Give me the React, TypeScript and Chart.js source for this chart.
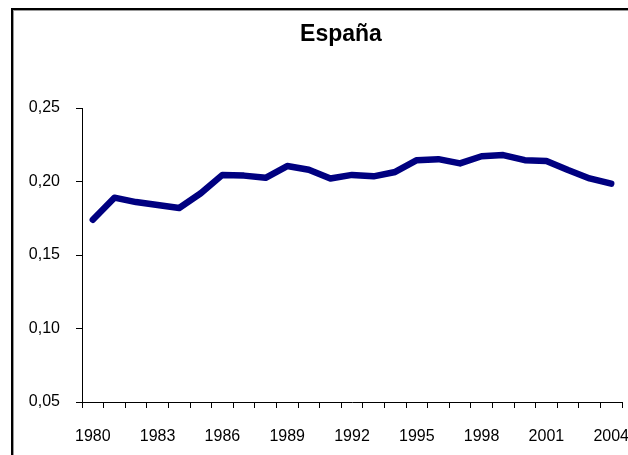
import React, { useEffect, useRef } from "react";
import { Chart, registerables } from "chart.js";

Chart.register(...registerables);

const years: string[] = [
  "1980", "1981", "1982", "1983", "1984", "1985", "1986", "1987", "1988", "1989",
  "1990", "1991", "1992", "1993", "1994", "1995", "1996", "1997", "1998", "1999",
  "2000", "2001", "2002", "2003", "2004",
];

const spainValues: number[] = [
  0.174, 0.189, 0.186, 0.184, 0.182, 0.192, 0.2045, 0.204, 0.2025, 0.2105,
  0.208, 0.202, 0.2045, 0.2035, 0.2065, 0.2145, 0.2152, 0.2123, 0.2172, 0.218,
  0.2145, 0.214, 0.2078, 0.2021, 0.1985,
];

const titleText = "España";
const yMin = 0.05;
const yMax = 0.25;
const yStep = 0.05;

const W = 628;
const H = 455;
const FONT = "Arial, 'Liberation Sans', sans-serif";

export default function App() {
  const ref = useRef<HTMLCanvasElement | null>(null);

  useEffect(() => {
    if (!ref.current) return;
    const titlePlugin = {
      id: "customTitle",
      afterDraw(chart: any) {
        const ctx = chart.ctx;
        ctx.save();
        ctx.font = "bold 23px " + FONT;
        ctx.fillStyle = "#000";
        ctx.textAlign = "center";
        ctx.textBaseline = "middle";
        ctx.fillText(titleText, 341, 35);
        ctx.restore();
      },
    };
    const chart = new Chart(ref.current, {
      type: "line",
      data: {
        labels: years,
        datasets: [
          {
            data: spainValues,
            borderColor: "#000080",
            backgroundColor: "#000080",
            borderWidth: 6.5,
            pointRadius: 0,
            tension: 0,
            borderJoinStyle: "round",
            borderCapStyle: "round",
            fill: false,
          },
        ],
      },
      options: {
        responsive: false,
        animation: false,
        devicePixelRatio: 1,
        layout: { padding: { top: 108, right: 6, bottom: 0, left: 0 } },
        plugins: {
          legend: { display: false },
          title: { display: false },
          tooltip: { enabled: false },
        },
        scales: {
          x: {
            type: "category",
            offset: true,
            grid: {
              offset: true,
              drawOnChartArea: false,
              drawTicks: true,
              tickLength: 6,
              color: "#000",
            },
            border: { display: true, color: "#000", width: 1 },
            ticks: {
              autoSkip: false,
              maxRotation: 0,
              minRotation: 0,
              padding: 19,
              color: "#000",
              font: { family: FONT, size: 16 },
              callback: (_v: any, i: number) => (i % 3 === 0 ? years[i] : ""),
            },
            afterFit: (scale: any) => {
              scale.height = 53;
              scale.paddingLeft = 0;
              scale.paddingRight = 0;
            },
          },
          y: {
            min: yMin,
            max: yMax,
            grid: {
              drawOnChartArea: false,
              drawTicks: true,
              tickLength: 6,
              color: "#000",
            },
            border: { display: true, color: "#000", width: 1 },
            ticks: {
              stepSize: yStep,
              padding: 16,
              color: "#000",
              font: { family: FONT, size: 16 },
              callback: (v: any) => Number(v).toFixed(2).replace(".", ","),
            },
            afterFit: (scale: any) => {
              scale.width = 82;
              scale.paddingTop = 0;
              scale.paddingBottom = 0;
            },
          },
        },
      },
      plugins: [titlePlugin],
    });
    return () => chart.destroy();
  }, []);

  return (
    <div
      style={{
        position: "fixed",
        left: 0,
        top: 0,
        width: W,
        height: H,
        background: "#fff",
        overflow: "hidden",
      }}
    >
      <div
        style={{
          position: "absolute",
          left: 11,
          top: 8,
          width: W + 20,
          height: H + 20,
          borderLeft: "2px solid #000",
          borderTop: "2px solid #000",
          boxShadow: "inset 1px 1px 0 #999",
        }}
      />
      <canvas
        ref={ref}
        width={W}
        height={H}
        style={{ position: "absolute", left: 0, top: 0, width: W, height: H }}
      />
    </div>
  );
}
